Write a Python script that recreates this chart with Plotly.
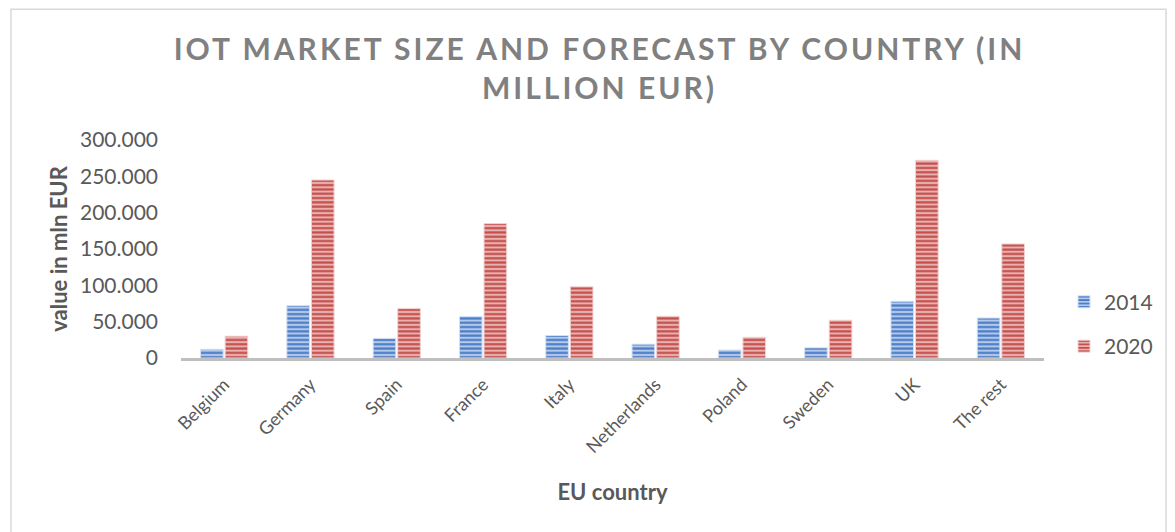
import plotly.graph_objects as go

# IoT market size per EU country, values in million EUR
countries = ["Belgium", "Germany", "Spain", "France", "Italy",
             "Netherlands", "Poland", "Sweden", "UK", "The rest"]
values_2014 = [12000, 72000, 27000, 57000, 31000, 19000, 11000, 14000, 78000, 55000]
values_2020 = [30000, 245000, 68000, 185000, 98000, 57500, 28500, 52000, 272000, 157000]
series_names = ["2014", "2020"]

W, H = 1175, 532
M_L, M_R, M_T, M_B = 181, 131, 140, 173.5

TEXT = "#595959"
FONT = "Lato"

fig = go.Figure()

styles = [
    dict(fg="#4a7cc6", bg="#b3c9ea", edge="#d4e0f3"),
    dict(fg="#c24f4c", bg="#e9b0ae", edge="#f2d2d1"),
]

for name, vals, st in zip(series_names, [values_2014, values_2020], styles):
    fig.add_trace(go.Bar(
        name=name,
        x=countries,
        y=vals,
        legendgroup=name,
        marker=dict(
            color=st["bg"],
            line=dict(color=st["edge"], width=1),
            pattern=dict(shape="-", fgcolor=st["fg"], bgcolor=st["bg"],
                         size=4.3, solidity=0.5, fillmode="replace"),
        ),
        hoverinfo="skip",
    ))

# outer chart frame, expressed in paper coordinates of the plot area
pw = W - M_L - M_R
ph = H - M_T - M_B
def px_x(p):
    return (p - M_L) / pw
def px_y(p):
    return (H - M_B - p) / ph

fig.add_shape(type="rect", xref="paper", yref="paper",
              x0=px_x(11), x1=px_x(1166), y0=px_y(545), y1=px_y(9),
              line=dict(color="#d9d9d9", width=1.5), fillcolor="rgba(0,0,0,0)",
              layer="below")

fig.update_layout(
    width=W, height=H,
    margin=dict(l=M_L, r=M_R, t=M_T, b=M_B, pad=0),
    paper_bgcolor="white", plot_bgcolor="white",
    barmode="group", bargap=0.43, bargroupgap=0.08,
    separators=",.",
    font=dict(family=FONT, color=TEXT),
    title=dict(
        text="IOT MARKET SIZE AND FORECAST BY COUNTRY (IN<br>MILLION EUR)",
        font=dict(family=FONT, size=30, color="#808080", weight="bold"),
        x=(M_L + pw / 2 - 13) / W, xanchor="center", xref="container",
        y=1 - 60 / H, yanchor="top", yref="container",
    ),
    xaxis=dict(
        showline=True, linecolor="#bfbfbf", linewidth=3,
        ticks="", tickangle=-45, ticklabelstandoff=6,
        tickfont=dict(family=FONT, size=18, color=TEXT),
        title=dict(text="<b>EU country</b>", standoff=29,
                   font=dict(family=FONT, size=22, color=TEXT)),
        showgrid=False,
    ),
    yaxis=dict(
        range=[0, 300000], tickvals=[0, 50000, 100000, 150000, 200000, 250000, 300000],
        tickformat=",d", showgrid=False, zeroline=False, showline=False,
        ticks="", ticklabelstandoff=22,
        tickfont=dict(family=FONT, size=21, color=TEXT),
        title=dict(text="<b>value in mln EUR</b>", standoff=6,
                   font=dict(family=FONT, size=22, color=TEXT)),
    ),
    legend=dict(
        x=px_x(1064), y=px_y(282), xanchor="left", yanchor="top",
        font=dict(family=FONT, size=21, color=TEXT),
        tracegroupgap=14, bgcolor="rgba(0,0,0,0)",
    ),
    showlegend=True,
)

post = """
document.querySelectorAll('.gtitle').forEach(function(t){ t.style.letterSpacing='3px'; });
"""

fig.write_html("out.html", config={"displayModeBar": False}, post_script=post)
